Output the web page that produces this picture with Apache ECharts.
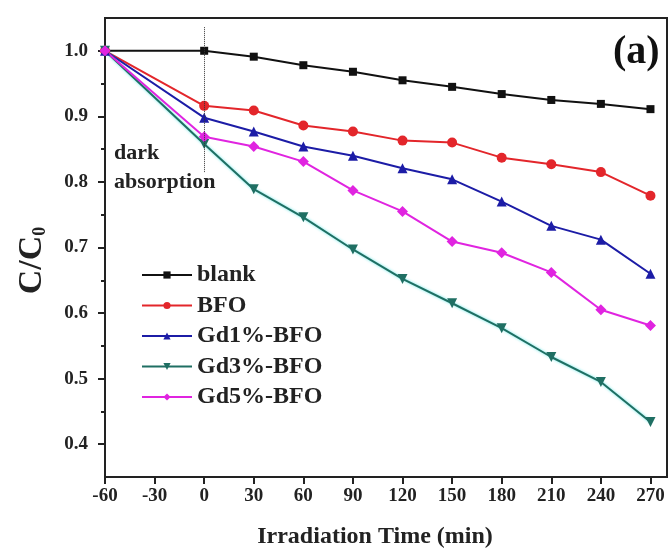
<!DOCTYPE html>
<html>
<head>
<meta charset="utf-8">
<script src="https://cdn.jsdelivr.net/npm/echarts@6/dist/echarts.min.js"></script>
<style>
  html, body { margin: 0; padding: 0; background: #fff; }
  #chart { width: 670px; height: 549px; }
</style>
</head>
<body>
<div id="chart"></div>
<script>
// Irradiation time (min); -60 is the start of the dark period, 0 is light on
const times = [-60, 0, 30, 60, 90, 120, 150, 180, 210, 240, 270];

// Normalised concentration C/C0 for each sample
const blank  = [1.0, 1.0, 0.991, 0.978, 0.968, 0.955, 0.945, 0.934, 0.925, 0.919, 0.911];
const bfo    = [1.0, 0.916, 0.909, 0.886, 0.877, 0.863, 0.860, 0.837, 0.827, 0.815, 0.779];
const gd1    = [1.0, 0.898, 0.877, 0.854, 0.840, 0.821, 0.804, 0.770, 0.733, 0.712, 0.660];
const gd3    = [1.0, 0.858, 0.789, 0.746, 0.697, 0.652, 0.615, 0.577, 0.533, 0.495, 0.434];
const gd5    = [1.0, 0.869, 0.854, 0.831, 0.787, 0.755, 0.709, 0.692, 0.662, 0.605, 0.581];

const seriesNames = ['blank', 'BFO', 'Gd1%-BFO', 'Gd3%-BFO', 'Gd5%-BFO'];

// Axis tick values
const xTickValues = [-60, -30, 0, 30, 60, 90, 120, 150, 180, 210, 240, 270];
const yTickValues = [0.4, 0.5, 0.6, 0.7, 0.8, 0.9, 1.0];
const yMinorTicks = [0.45, 0.55, 0.65, 0.75, 0.85, 0.95];

const serif = '"Liberation Serif", "DejaVu Serif", serif';
const pair = arr => times.map((t, i) => [t, arr[i]]);

const chart = echarts.init(document.getElementById('chart'), null, { renderer: 'canvas' });

function lineSeries(name, data, color, symbol, extra) {
  return Object.assign({
    name: name,
    type: 'line',
    data: pair(data),
    symbol: symbol,
    symbolSize: 9,
    color: color,
    lineStyle: { width: 2, color: color },
    itemStyle: { color: color },
    animation: false,
    z: 3
  }, extra || {});
}

const option = {
  backgroundColor: '#fff',
  animation: false,
  grid: {
    left: 105, right: 3, top: 18, bottom: 72,
    outerBoundsMode: 'none',
    containLabel: false,
    show: true, borderColor: '#222', borderWidth: 2, backgroundColor: 'transparent'
  },
  legend: {
    orient: 'vertical',
    left: 141,
    top: 263,
    padding: 0,
    itemWidth: 50,
    itemHeight: 9,
    itemGap: 6.5,
    data: seriesNames,
    textStyle: { fontFamily: serif, fontWeight: 'bold', fontSize: 24, color: '#222', lineHeight: 24 }
  },
  xAxis: {
    type: 'value',
    min: -60,
    max: 280,
    interval: 30,
    name: 'Irradiation Time (min)',
    nameLocation: 'middle',
    nameGap: 48,
    nameTextStyle: { fontFamily: serif, fontWeight: 'bold', fontSize: 24, color: '#222', padding: [0, 22, 0, 0] },
    axisLine: { show: true, onZero: false, lineStyle: { color: '#222', width: 2 } },
    axisTick: { show: true, inside: false, length: 7, lineStyle: { color: '#222', width: 2 } },
    axisLabel: {
      margin: 10,
      fontFamily: serif, fontWeight: 'bold', fontSize: 19, color: '#222',
      showMaxLabel: false,
      formatter: v => (xTickValues.indexOf(v) >= 0 ? String(v) : '')
    },
    splitLine: { show: false }
  },
  yAxis: [
    {
      type: 'value',
      min: 0.35,
      max: 1.05,
      name: '{a|C/C}{b|0}',
      nameLocation: 'middle',
      nameGap: 56,
      nameTextStyle: {
        // right padding pushes the upward-reading title a little below the midline
        padding: [0, 26, 0, 0],
        rich: {
          a: { fontFamily: serif, fontWeight: 'bold', fontSize: 34, color: '#222' },
          b: { fontFamily: serif, fontWeight: 'bold', fontSize: 18, color: '#222', padding: [16, 0, 0, 0] }
        }
      },
      axisLine: { show: true, onZero: false, lineStyle: { color: '#222', width: 2 } },
      axisTick: { show: true, inside: false, length: 7, customValues: yTickValues, lineStyle: { color: '#222', width: 2 } },
      axisLabel: {
        margin: 17,
        customValues: yTickValues,
        fontFamily: serif, fontWeight: 'bold', fontSize: 19, color: '#222',
        formatter: v => v.toFixed(1)
      },
      splitLine: { show: false }
    },
    {
      // minor ticks halfway between the labelled ones
      type: 'value',
      min: 0.35,
      max: 1.05,
      position: 'left',
      offset: 0,
      axisLine: { show: false, onZero: false },
      axisTick: { show: true, inside: false, length: 4, customValues: yMinorTicks, lineStyle: { color: '#222', width: 2 } },
      axisLabel: { show: false },
      splitLine: { show: false }
    }
  ],
  graphic: [
    {
      type: 'text', left: 114, top: 139, z: 10,
      style: {
        text: 'dark\nabsorption',
        fontFamily: serif, fontWeight: 'bold', fontSize: 22, lineHeight: 29, fill: '#222'
      }
    },
    {
      type: 'text', left: 613, top: 33, z: 10,
      style: { text: '(a)', fontFamily: serif, fontWeight: 'bold', fontSize: 40, fill: '#111' }
    }
  ],
  series: [
    lineSeries('blank', blank, '#111111', 'rect', {
      symbolSize: 8,
      markLine: {
        silent: true,
        symbol: 'none',
        label: { show: false },
        lineStyle: { type: 'dotted', color: '#333', width: 1 },
        data: [[{ coord: [0, 1.036] }, { coord: [0, 0.815] }]]
      }
    }),
    lineSeries('BFO', bfo, '#e3262b', 'circle', { symbolSize: 10 }),
    lineSeries('Gd1%-BFO', gd1, '#1c1ca6', 'triangle', { symbolSize: 10 }),
    lineSeries('Gd3%-BFO', gd3, '#1f6f63', 'triangle', {
      symbolSize: 10, symbolRotate: 180,
      lineStyle: { width: 2, color: '#1f6f63', shadowColor: 'rgba(0,220,220,0.6)', shadowBlur: 3 }
    }),
    lineSeries('Gd5%-BFO', gd5, '#e024e0', 'diamond', { symbolSize: 11 })
  ]
};

chart.setOption(option);
</script>
</body>
</html>
